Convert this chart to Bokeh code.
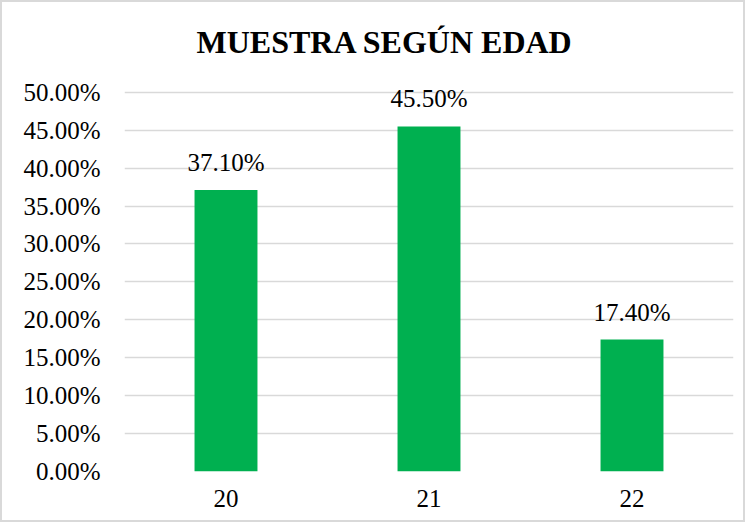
from bokeh.plotting import figure
from bokeh.models import ColumnDataSource, FactorRange, Range1d, NumeralTickFormatter, Label, FixedTicker
from bokeh.embed import file_html
from bokeh.resources import INLINE

ages = ["20", "21", "22"]
shares = [0.371, 0.455, 0.174]
share_labels = ["37.10%", "45.50%", "17.40%"]
y_ticks = [0.0, 0.05, 0.10, 0.15, 0.20, 0.25, 0.30, 0.35, 0.40, 0.45, 0.50]
title_text = "MUESTRA SEGÚN EDAD"

FONT = "Liberation Serif"

src = ColumnDataSource(dict(age=ages, share=shares, lab=share_labels))

# frame runs to the top of the canvas so the title (drawn as a label) is not clipped;
# the upper range limit leaves 89px above the 50% line
FRAME_H = 465
Y_TOP = 0.5 * FRAME_H / 376

p = figure(width=745, height=522, x_range=FactorRange(*ages, range_padding=0),
           y_range=Range1d(0, Y_TOP), output_backend="svg", toolbar_location=None,
           min_border_left=122, min_border_right=14, min_border_top=0, min_border_bottom=53)
p.styles = {"border": "2px solid #d9d9d9", "box-sizing": "border-box"}

p.vbar(x="age", top="share", width=0.31, source=src, color="#00B050", line_color=None)

# factor i sits at synthetic coordinate i + 0.5 on a FactorRange
for i, (s, t) in enumerate(zip(shares, share_labels)):
    p.add_layout(Label(x=i + 0.5, y=s, text=t, text_align="center", text_baseline="bottom",
                       y_offset=14, text_font=FONT, text_font_size="25px",
                       text_color="#000000"))

# chart title, anchored to the top tick (50%) and the middle category
p.add_layout(Label(x=len(ages) / 2, y=y_ticks[-1], x_offset=-44, y_offset=50, text=title_text,
                   text_align="center", text_baseline="alphabetic", text_font=FONT,
                   text_font_size="32px", text_font_style="bold", text_color="#000000"))

p.outline_line_color = None
p.xgrid.grid_line_color = None
p.ygrid.grid_line_color = "#d9d9d9"
p.ygrid.grid_line_width = 1.5
p.ygrid.ticker = FixedTicker(ticks=y_ticks)

p.yaxis.ticker = FixedTicker(ticks=y_ticks)
p.yaxis.formatter = NumeralTickFormatter(format="0.00%")
for ax in (p.xaxis[0], p.yaxis[0]):
    ax.axis_line_color = None
    ax.major_tick_line_color = None
    ax.minor_tick_line_color = None
    ax.major_tick_out = 0
    ax.major_tick_in = 0
    ax.major_label_text_font = FONT
    ax.major_label_text_font_size = "25px"
    ax.major_label_text_color = "#000000"
p.yaxis.major_label_standoff = 24
p.xaxis.major_label_standoff = 18

open("out.html", "w").write(file_html(p, INLINE))
